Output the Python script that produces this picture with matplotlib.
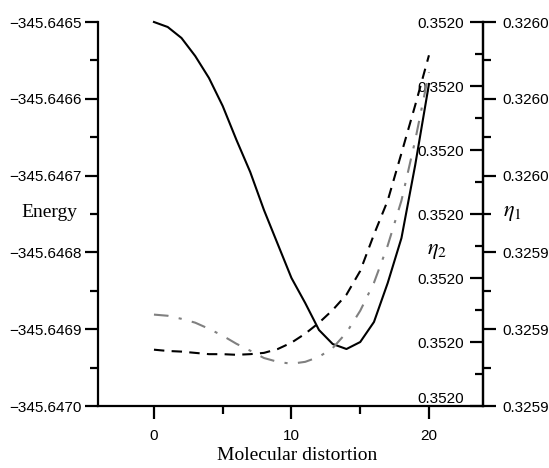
import numpy as np
import matplotlib
matplotlib.use("Agg")
import matplotlib.pyplot as plt
from matplotlib.ticker import MultipleLocator, FuncFormatter

# data
distortion = list(range(0, 21))
energy = [-345.6465000, -345.6465065, -345.6465208, -345.6465443, -345.6465729,
          -345.6466094, -345.6466536, -345.6466953, -345.6467448, -345.6467891,
          -345.6468333, -345.6468659, -345.6469010, -345.6469193, -345.6469258,
          -345.6469167, -345.6468906, -345.6468398, -345.6467813, -345.6466862,
          -345.6465807]
eta2 = [0.3519788, 0.3519786, 0.3519785, 0.3519783, 0.3519781, 0.3519781,
        0.3519780, 0.3519781, 0.3519783, 0.3519789, 0.3519799, 0.3519813,
        0.3519830, 0.3519850, 0.3519874, 0.3519911, 0.3519968, 0.3520021,
        0.3520095, 0.3520170, 0.3520248]
eta1 = [0.3259238, 0.3259235, 0.3259227, 0.3259217, 0.3259201, 0.3259183,
        0.3259162, 0.3259144, 0.3259125, 0.3259115, 0.3259110, 0.3259115,
        0.3259128, 0.3259151, 0.3259191, 0.3259248, 0.3259321, 0.3259418,
        0.3259535, 0.3259692, 0.3259869]

plt.rcParams['font.family'] = 'Liberation Sans'
plt.rcParams['mathtext.fontset'] = 'stix'
serif = 'Liberation Serif'
fmt4 = FuncFormatter(lambda v, p: ('%.4f' % v).replace('-', '\u2212'))

fig = plt.figure(figsize=(5.49, 4.68), dpi=100)
ax = fig.add_axes([98/549, 1-406/468, 385/549, 384/468])
ax2 = ax.twinx()
ax3 = ax.twinx()

# energy (left axis)
ax.plot(distortion, energy, color='black', lw=1.5, clip_on=False)
ax.set_xlim(-4.07, 23.93)
ax.set_ylim(-345.6470, -345.6465)
ax.yaxis.set_major_locator(MultipleLocator(0.0001))
ax.yaxis.set_minor_locator(MultipleLocator(0.00005))
ax.yaxis.set_major_formatter(fmt4)
ax.xaxis.set_major_locator(MultipleLocator(10))
ax.xaxis.set_minor_locator(MultipleLocator(5))
for s in ['top', 'right']:
    ax.spines[s].set_visible(False)
for s in ['left', 'bottom']:
    ax.spines[s].set_linewidth(1.6)
ax.tick_params(which='major', direction='out', length=9.5, width=1.6, labelsize=11, pad=2)
ax.tick_params(which='minor', direction='out', length=5.5, width=1.6)
ax.tick_params(axis='x', which='major', pad=7)
ax.set_ylabel('Energy', rotation=0, fontsize=14, family=serif, ha='center', va='center')
ax.yaxis.set_label_coords(-0.125, 0.505)
ax.set_xlabel('Molecular distortion', fontsize=14, family=serif, ha='center', va='center')
ax.xaxis.set_label_coords(0.517, -0.128)

# eta2: ticks and labels inside on the right spine
ax2.plot(distortion, eta2, color='black', lw=1.5, dashes=(5, 3.5))
ax2.set_ylim(0.35197, 0.35203)
ax2.yaxis.tick_left()
ax2.spines['left'].set_position(('axes', 1.0))
for s in ['top', 'right', 'bottom']:
    ax2.spines[s].set_visible(False)
ax2.spines['left'].set_linewidth(1.6)
ax2.yaxis.set_major_locator(MultipleLocator(0.00001))
ax2.yaxis.set_minor_locator(MultipleLocator(0.000005))
ax2.yaxis.set_major_formatter(fmt4)
ax2.tick_params(which='major', direction='out', length=9.5, width=1.6, labelsize=11, pad=4)
ax2.tick_params(which='minor', direction='out', length=5.5, width=1.6)
ax2.set_ylabel(r'$\eta_2$', rotation=0, fontsize=16, ha='center', va='center')
ax2.yaxis.set_label_coords(0.88, 0.406)

# eta1: outer scale on the right
ax3.plot(distortion, eta1, color='#808080', lw=1.5, dashes=(7, 5, 1.5, 5))
ax3.set_ylim(0.32590, 0.32600)
for s in ['top', 'left', 'bottom']:
    ax3.spines[s].set_visible(False)
ax3.spines['right'].set_linewidth(1.6)
ax3.yaxis.set_major_locator(MultipleLocator(0.00002))
ax3.yaxis.set_minor_locator(MultipleLocator(0.00001))
ax3.yaxis.set_major_formatter(fmt4)
ax3.tick_params(which='major', direction='out', length=9, width=1.6, labelsize=11, pad=5)
ax3.tick_params(which='minor', direction='out', length=5.5, width=1.6)
ax3.set_ylabel(r'$\eta_1$', rotation=0, fontsize=16, ha='center', va='center')
ax3.yaxis.set_label_coords(1.075, 0.505)

# the lowest inner label sits just above the bottom spine
fig.canvas.draw()
for t in ax2.yaxis.get_major_ticks():
    if abs(t.get_loc() - 0.35197) < 1e-9:
        t.label1.set_verticalalignment('bottom')

fig.savefig('out.png', dpi=100)
